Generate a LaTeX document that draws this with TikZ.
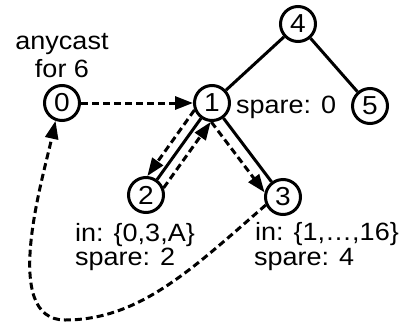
\documentclass[tikz,border=0pt]{standalone}
\usepackage{fontspec}
\setmainfont{Liberation Sans}[FakeStretch=1.08]
\usetikzlibrary{arrows.meta}
\begin{document}
\begin{tikzpicture}[x=1pt,y=-1pt,
  vertex/.style={circle,draw,line width=3pt,minimum size=35pt,inner sep=0pt,
    font=\fontsize{26}{26}\selectfont},
  lbl/.style={font=\fontsize{25}{25}\selectfont,inner sep=0pt},
  link/.style={line width=3pt},
  msg/.style={line width=3pt,dash pattern=on 7pt off 4pt,
    -{Triangle[length=18pt,width=13pt]}},
]
\useasboundingbox (0,0) rectangle (401,327);

% tree nodes
\node[vertex] (n0) at (62,103) {0};
\node[vertex] (n1) at (212,103) {1};
\node[vertex] (n4) at (298,24) {4};
\node[vertex] (n5) at (370,106) {5};
\node[vertex] (n2) at (146,195) {2};
\node[vertex] (n3) at (283,197) {3};

% labels
\node[lbl,anchor=base] (any) at (62,49) {anycast};
\node[lbl,anchor=base] (for) at (62,77) {for 6};
\node[lbl,anchor=base west] (sp0) at (236,113) {spare: 0};
\node[lbl,anchor=base west] (in2) at (75,241) {in: \{0,3,A\}};
\node[lbl,anchor=base west] (sp2) at (75,265) {spare: 2};
\node[lbl,anchor=base west] (in3) at (255,240) {in: \{1,\ldots,16\}};
\node[lbl,anchor=base west] (sp4) at (254,265) {spare: 4};

% tree links
\draw[link] (n4) -- (n1);
\draw[link] (n4) -- (n5);
\draw[link] (n1) -- (n2);
\draw[link] (n1) -- (n3);

% messages
\draw[msg] (n0) -- (n1);
\draw[msg] (n1.202) -- (n2.86);
\draw[msg] (n2.22) -- (n1.266);
\draw[msg] (n1.268) -- (n3.166);
\draw[msg] (n3.205) .. controls (193,268) and (140,320) .. (65,320)
  .. controls (0,320) and (43,178) .. (n0.250);
\end{tikzpicture}
\end{document}
